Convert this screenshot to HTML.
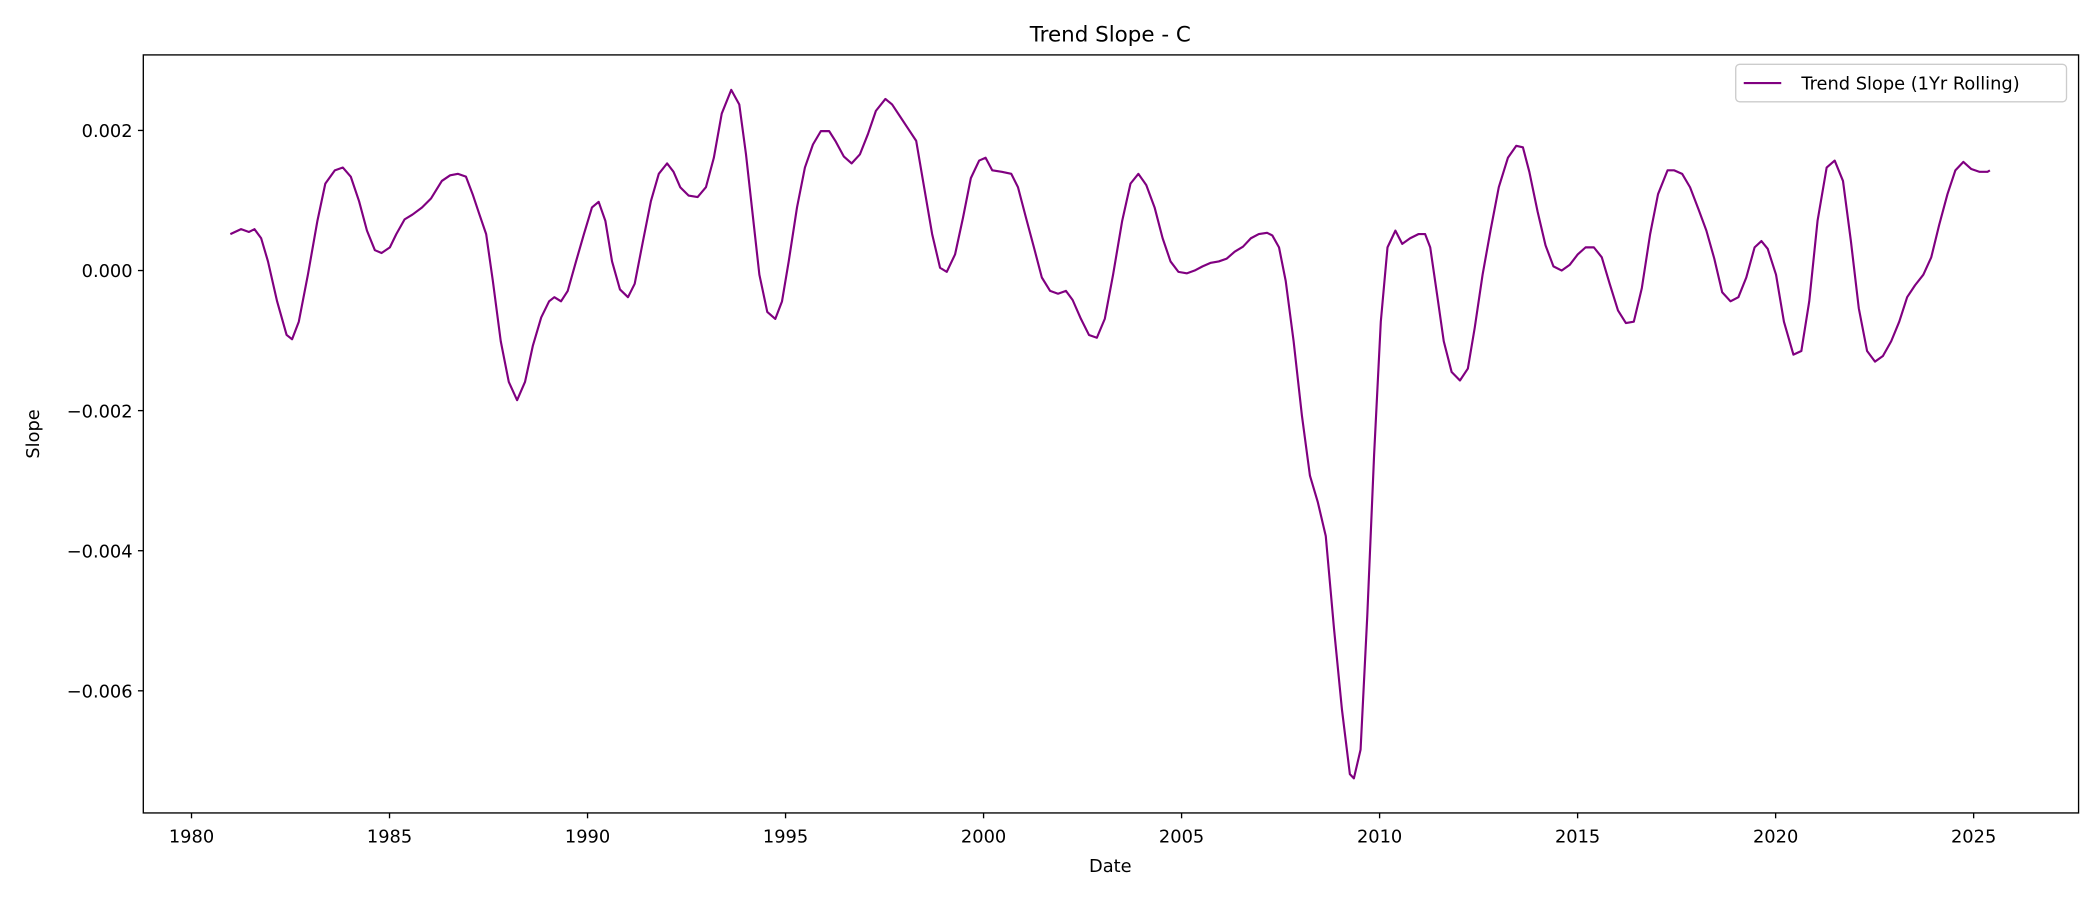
<!DOCTYPE html>
<html><head><meta charset="utf-8"><style>
body{margin:0;background:#fff;}
svg{display:block;}
svg text{font-family:"DejaVu Sans","Liberation Sans",sans-serif;fill:#000;}
</style></head><body>
<svg width="2100" height="900" viewBox="0 0 1568 672" xmlns="http://www.w3.org/2000/svg">
<rect width="1568" height="672" fill="#fff"/>
<text x="829" y="31" font-size="16" text-anchor="middle">Trend Slope - C</text>
<g id="ticks"></g>
<path id="line" fill="none" stroke="#800080" stroke-width="1.6" stroke-linejoin="round"/>
<rect x="107" y="41" width="1445" height="566" fill="none" stroke="#000" stroke-width="1"/>
<text x="829" y="651" font-size="13.3" text-anchor="middle">Date</text>
<text x="29" y="324" font-size="13.3" text-anchor="middle" transform="rotate(-90 29 324)">Slope</text>
<g>
<rect x="1296" y="48" width="247" height="28" rx="3" fill="#fff" stroke="#ccc"/>
<line x1="1302" y1="62" x2="1330" y2="62" stroke="#800080" stroke-width="1.6"/>
<text x="1345" y="67" font-size="13.3">Trend Slope (1Yr Rolling)</text>
</g>
</svg>
<script>
const years=[1980.98,1981.25,1981.45,1981.59,1981.76,1981.93,1982.16,1982.40,1982.54,1982.71,1982.94,1983.18,1983.38,1983.62,1983.82,1984.02,1984.23,1984.43,1984.63,1984.80,1985.01,1985.17,1985.38,1985.58,1985.82,1986.05,1986.32,1986.53,1986.73,1986.93,1987.10,1987.27,1987.44,1987.61,1987.81,1988.01,1988.22,1988.42,1988.62,1988.83,1989.03,1989.16,1989.33,1989.50,1989.71,1989.91,1990.11,1990.28,1990.45,1990.62,1990.82,1991.02,1991.19,1991.40,1991.60,1991.80,1992.01,1992.17,1992.34,1992.55,1992.78,1992.99,1993.19,1993.39,1993.63,1993.83,1994.00,1994.17,1994.34,1994.54,1994.74,1994.91,1995.08,1995.29,1995.49,1995.69,1995.89,1996.10,1996.27,1996.47,1996.67,1996.88,1997.08,1997.28,1997.52,1997.69,1997.89,1998.09,1998.30,1998.50,1998.70,1998.90,1999.07,1999.28,1999.48,1999.68,1999.89,2000.05,2000.22,2000.46,2000.70,2000.87,2001.07,2001.27,2001.47,2001.68,2001.88,2002.08,2002.25,2002.46,2002.66,2002.86,2003.06,2003.27,2003.50,2003.71,2003.91,2004.11,2004.32,2004.52,2004.72,2004.92,2005.13,2005.33,2005.53,2005.74,2005.94,2006.14,2006.34,2006.55,2006.75,2006.95,2007.16,2007.29,2007.46,2007.63,2007.83,2008.04,2008.24,2008.44,2008.64,2008.85,2009.05,2009.25,2009.35,2009.52,2009.69,2009.86,2010.03,2010.20,2010.40,2010.57,2010.77,2010.98,2011.15,2011.28,2011.45,2011.62,2011.82,2012.03,2012.23,2012.40,2012.60,2012.80,2013.01,2013.24,2013.45,2013.62,2013.78,2013.99,2014.19,2014.39,2014.60,2014.80,2015.00,2015.20,2015.41,2015.61,2015.81,2016.02,2016.22,2016.42,2016.62,2016.83,2017.03,2017.27,2017.44,2017.64,2017.84,2018.05,2018.25,2018.45,2018.65,2018.86,2019.06,2019.26,2019.47,2019.64,2019.80,2020.01,2020.21,2020.45,2020.65,2020.85,2021.06,2021.29,2021.49,2021.70,2021.90,2022.10,2022.31,2022.51,2022.71,2022.92,2023.12,2023.32,2023.52,2023.73,2023.93,2024.13,2024.34,2024.54,2024.74,2024.94,2025.15,2025.35,2025.41];
const slopesMilli=[0.52,0.59,0.55,0.59,0.46,0.13,-0.44,-0.92,-0.98,-0.73,-0.06,0.71,1.24,1.43,1.47,1.34,0.99,0.57,0.29,0.25,0.33,0.52,0.73,0.80,0.90,1.03,1.28,1.36,1.38,1.34,1.09,0.80,0.52,-0.15,-1.01,-1.59,-1.85,-1.59,-1.07,-0.67,-0.44,-0.38,-0.44,-0.29,0.13,0.52,0.90,0.98,0.71,0.13,-0.27,-0.38,-0.19,0.42,0.99,1.38,1.53,1.41,1.19,1.07,1.05,1.19,1.61,2.24,2.58,2.37,1.66,0.80,-0.06,-0.59,-0.69,-0.44,0.13,0.90,1.47,1.80,1.99,1.99,1.84,1.63,1.53,1.66,1.95,2.28,2.45,2.37,2.20,2.03,1.85,1.19,0.52,0.04,-0.02,0.23,0.75,1.32,1.57,1.61,1.43,1.41,1.38,1.19,0.76,0.33,-0.10,-0.29,-0.33,-0.29,-0.42,-0.69,-0.92,-0.96,-0.69,-0.06,0.71,1.24,1.38,1.22,0.90,0.46,0.13,-0.02,-0.04,0.00,0.06,0.11,0.13,0.17,0.27,0.34,0.46,0.52,0.54,0.50,0.33,-0.15,-1.01,-2.07,-2.93,-3.31,-3.79,-5.12,-6.27,-7.19,-7.25,-6.84,-4.93,-2.63,-0.73,0.33,0.57,0.38,0.46,0.52,0.52,0.33,-0.34,-1.01,-1.45,-1.57,-1.40,-0.82,-0.06,0.57,1.19,1.61,1.78,1.76,1.41,0.84,0.36,0.06,0.00,0.08,0.23,0.33,0.33,0.19,-0.19,-0.57,-0.75,-0.73,-0.25,0.52,1.09,1.43,1.43,1.38,1.19,0.88,0.57,0.17,-0.31,-0.44,-0.38,-0.10,0.33,0.42,0.31,-0.06,-0.73,-1.20,-1.15,-0.44,0.71,1.47,1.57,1.28,0.42,-0.54,-1.15,-1.30,-1.22,-1.01,-0.73,-0.38,-0.21,-0.06,0.19,0.65,1.09,1.43,1.55,1.45,1.41,1.41,1.43];
const xTicks=[1980,1985,1990,1995,2000,2005,2010,2015,2020,2025];
const yTicks=[0.002,0,-0.002,-0.004,-0.006];
const yTickLabels=["0.002","0.000","\u22120.002","\u22120.004","\u22120.006"];
const X=y=>143+(y-1980)*29.57;
const Y=v=>202-v*52300;
const NS='http://www.w3.org/2000/svg';
const g=document.getElementById('ticks');
function mk(t,a){const e=document.createElementNS(NS,t);for(const k in a)e.setAttribute(k,a[k]);return e;}
xTicks.forEach(t=>{const x=X(t);
const l=mk('line',{x1:x,x2:x,y1:607,y2:611,stroke:'#000'});

g.appendChild(l);
const s=mk('text',{x:x,y:629,'font-size':13.3,'text-anchor':'middle'});s.textContent=t;

g.appendChild(s);});
yTicks.forEach((t,i)=>{const y=Y(t);
const l=mk('line',{x1:103,x2:107,y1:y,y2:y,stroke:'#000'});

g.appendChild(l);
const s=mk('text',{x:99,y:y+5,'font-size':13.3,'text-anchor':'end'});s.textContent=yTickLabels[i];

g.appendChild(s);});
let d='';years.forEach((yr,i)=>{d+=(i?'L':'M')+X(yr).toFixed(1)+','+Y(slopesMilli[i]/1000).toFixed(1);});
document.getElementById('line').setAttribute('d',d);
</script>
</body></html>
